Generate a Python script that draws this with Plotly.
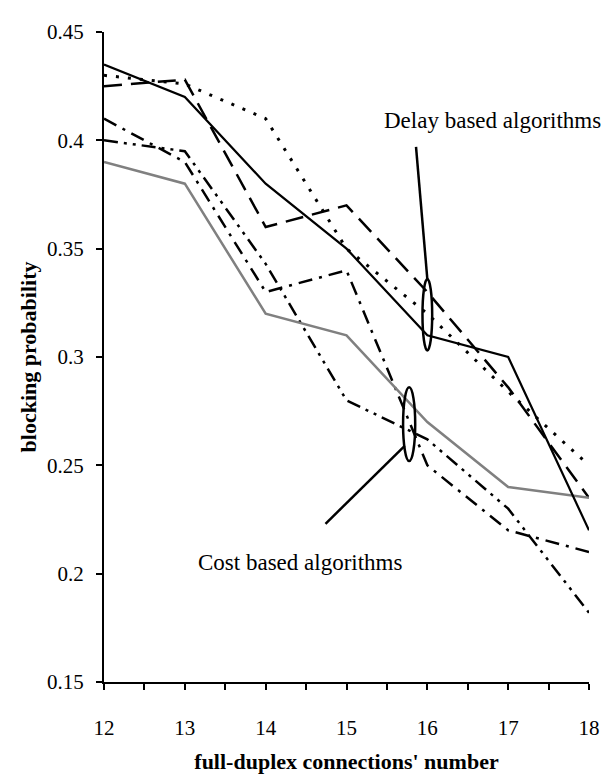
import plotly.graph_objects as go

connections = [12, 13, 14, 15, 16, 17, 18]

delay_solid = [0.435, 0.42, 0.38, 0.35, 0.31, 0.30, 0.22]
delay_dotted = [0.43, 0.426, 0.41, 0.35, 0.32, 0.284, 0.25]
delay_longdash = [0.425, 0.428, 0.36, 0.37, 0.33, 0.286, 0.235]
cost_gray = [0.39, 0.38, 0.32, 0.31, 0.27, 0.24, 0.235]
cost_dashdot = [0.41, 0.39, 0.33, 0.34, 0.25, 0.22, 0.21]
cost_dashdotdot = [0.40, 0.395, 0.343, 0.28, 0.262, 0.23, 0.182]

x_ticks = [12, 13, 14, 15, 16, 17, 18]
y_ticks = [0.15, 0.2, 0.25, 0.3, 0.35, 0.4, 0.45]
y_ticklabels = ["0.15", "0.2", "0.25", "0.3", "0.35", "0.4", "0.45"]

FONT = "Liberation Serif"

series = [
    (delay_longdash, "black", 2.5, "18px,9px"),
    (delay_dotted, "black", 3, "3px,9px"),
    (cost_dashdot, "black", 2.5, "14px,7px,3px,7px"),
    (cost_dashdotdot, "black", 2.5, "14px,6px,3px,6px,3px,6px"),
    (cost_gray, "#808080", 2.5, "solid"),
    (delay_solid, "black", 2.2, "solid"),
]

fig = go.Figure()
for vals, color, width, dash in series:
    fig.add_trace(go.Scatter(
        x=connections, y=vals, mode="lines",
        line=dict(color=color, width=width, dash=dash),
        showlegend=False, hoverinfo="skip",
    ))

# annotation pointers and ellipses (data coordinates)
fig.add_shape(type="circle", xref="x", yref="y", x0=15.94, x1=16.06, y0=0.303, y1=0.336,
              line=dict(color="black", width=2.5))
fig.add_shape(type="circle", xref="x", yref="y", x0=15.70, x1=15.85, y0=0.252, y1=0.286,
              line=dict(color="black", width=2.5))
fig.add_shape(type="line", xref="x", yref="y", x0=15.86, y0=0.397, x1=16.0, y1=0.336,
              line=dict(color="black", width=2.5))
fig.add_shape(type="line", xref="x", yref="y", x0=14.74, y0=0.223, x1=15.72, y1=0.259,
              line=dict(color="black", width=2.5))

fig.add_annotation(x=16.81, y=0.409, xref="x", yref="y", text="Delay based algorithms",
                   showarrow=False, font=dict(family=FONT, size=23, color="black"))
fig.add_annotation(x=14.43, y=0.205, xref="x", yref="y", text="Cost based algorithms",
                   showarrow=False, font=dict(family=FONT, size=23, color="black"))

fig.update_layout(
    width=613, height=774,
    margin=dict(l=96, r=32, t=18, b=89),
    plot_bgcolor="white", paper_bgcolor="white",
    font=dict(family=FONT, color="black"),
    xaxis=dict(
        range=[12, 18], tickvals=x_ticks, ticktext=[str(v) for v in x_ticks],
        showgrid=False, zeroline=False, showline=True, linecolor="black", linewidth=2,
        ticks="outside", ticklen=6, tickwidth=2, tickcolor="black",
        minor=dict(tickvals=[12.5, 13.5, 14.5, 15.5, 16.5, 17.5], ticks="outside",
                   ticklen=6, tickwidth=2, tickcolor="black"),
        tickfont=dict(family=FONT, size=21, color="black"),
        ticklabelstandoff=20,
        title=dict(text="<b>full-duplex connections' number</b>",
                   font=dict(family=FONT, size=22, color="black"), standoff=14),
    ),
    yaxis=dict(
        range=[0.15, 0.45], tickvals=y_ticks, ticktext=y_ticklabels,
        showgrid=False, zeroline=False, showline=True, linecolor="black", linewidth=2,
        ticks="outside", ticklen=6, tickwidth=2, tickcolor="black",
        tickfont=dict(family=FONT, size=21, color="black"),
        ticklabelstandoff=8,
        title=dict(text="<b>blocking probability</b>",
                   font=dict(family=FONT, size=22, color="black"), standoff=4),
    ),
)

fig.write_html("out.html")
